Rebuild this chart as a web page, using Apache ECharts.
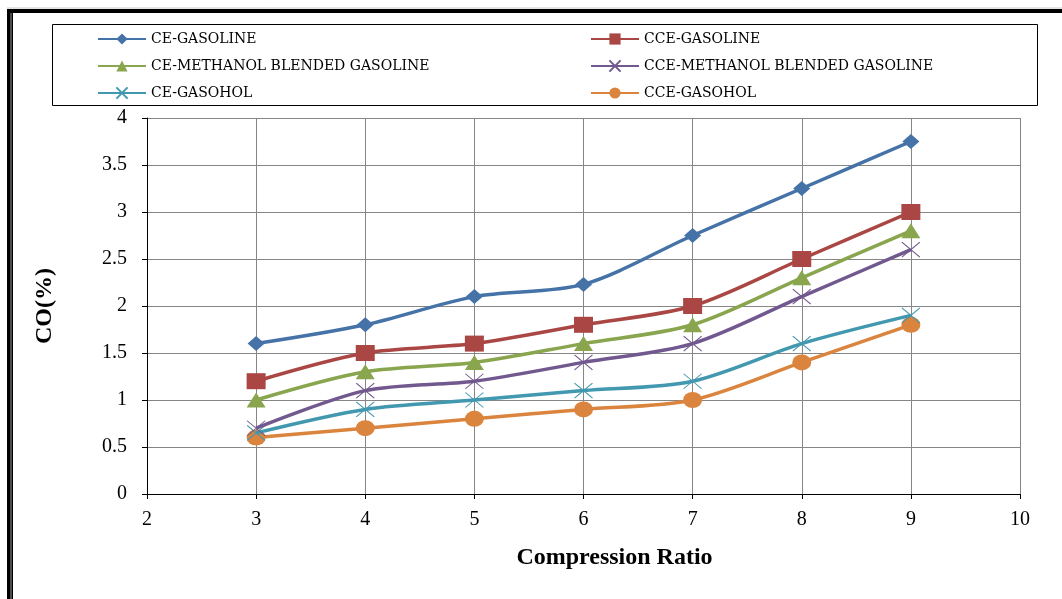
<!DOCTYPE html>
<html>
<head>
<meta charset="utf-8">
<script src="https://cdn.jsdelivr.net/npm/echarts@6/dist/echarts.min.js"></script>
<style>html,body{margin:0;padding:0;background:#fff;}#c{width:1062px;height:599px;}</style>
</head>
<body>
<div id="c"></div>
<script>
const compressionRatio = [3, 4, 5, 6, 7, 8, 9];
const ceGasoline = [1.6, 1.8, 2.1, 2.23, 2.75, 3.25, 3.75];
const cceGasoline = [1.2, 1.5, 1.6, 1.8, 2.0, 2.5, 3.0];
const ceMethanol = [1.0, 1.3, 1.4, 1.6, 1.8, 2.3, 2.8];
const cceMethanol = [0.7, 1.1, 1.2, 1.4, 1.6, 2.1, 2.6];
const ceGasohol = [0.65, 0.9, 1.0, 1.1, 1.2, 1.6, 1.9];
const cceGasohol = [0.6, 0.7, 0.8, 0.9, 1.0, 1.4, 1.8];
const seriesNames = ['CE-GASOLINE', 'CCE-GASOLINE', 'CE-METHANOL BLENDED GASOLINE', 'CCE-METHANOL BLENDED GASOLINE', 'CE-GASOHOL', 'CCE-GASOHOL'];

const colors = ['#4572A7', '#AA4643', '#89A54E', '#71588F', '#4198AF', '#DB843D'];
const cross = 'path://M0,0L10,10M10,0L0,10';
const symbols = ['diamond', 'rect', 'triangle', cross, cross, 'circle'];
const sizes = [[17, 15], [19, 16], [19, 15], [18, 15], [18, 15], [19, 16]];
const values = [ceGasoline, cceGasoline, ceMethanol, cceMethanol, ceGasohol, cceGasohol];

const series = values.map((vals, i) => ({
  name: seriesNames[i],
  type: 'line',
  smooth: 0.3,
  data: compressionRatio.map((x, j) => [x, vals[j]]),
  symbol: symbols[i],
  symbolSize: sizes[i],
  lineStyle: { color: colors[i], width: 3.5 },
  itemStyle: symbols[i] === cross
    ? { color: colors[i], borderColor: colors[i], borderWidth: 1 }
    : { color: colors[i] },
  color: colors[i],
  z: 10 - i
}));

const serif = 'Liberation Serif';
const legendText = { fontFamily: 'DejaVu Serif', fontSize: 14, color: '#000' };

const chart = echarts.init(document.getElementById('c'), null, { renderer: 'canvas' });
chart.setOption({
  animation: false,
  backgroundColor: '#fff',
  grid: { left: 147, right: 42, top: 118, bottom: 105 },
  legend: [
    { data: [seriesNames[0], seriesNames[2], seriesNames[4]], orient: 'vertical', left: 97, top: 32,
      itemGap: 13, itemWidth: 48, itemHeight: 14, padding: 0, textStyle: legendText },
    { data: [seriesNames[1], seriesNames[3], seriesNames[5]], orient: 'vertical', left: 590, top: 32,
      itemGap: 13, itemWidth: 48, itemHeight: 14, padding: 0, textStyle: legendText }
  ],
  xAxis: {
    type: 'value', min: 2, max: 10, interval: 1,
    name: 'Compression Ratio', nameLocation: 'middle', nameGap: 52,
    nameTextStyle: { fontFamily: serif, fontSize: 24, fontWeight: 'bold', color: '#000', padding: [0, 0, 0, 62] },
    axisLine: { show: true, lineStyle: { color: '#000', width: 1 } },
    axisTick: { show: true, length: 5, lineStyle: { color: '#000' } },
    axisLabel: { fontFamily: serif, fontSize: 20, color: '#000', margin: 16 },
    splitLine: { show: true, lineStyle: { color: '#868686', width: 1 } }
  },
  yAxis: {
    type: 'value', min: 0, max: 4, interval: 0.5,
    name: 'CO(%)', nameLocation: 'middle', nameGap: 90,
    nameTextStyle: { fontFamily: serif, fontSize: 24, fontWeight: 'bold', color: '#000' },
    axisLine: { show: true, lineStyle: { color: '#000', width: 1 } },
    axisTick: { show: true, length: 5, lineStyle: { color: '#000' } },
    axisLabel: { fontFamily: serif, fontSize: 20, color: '#000', margin: 20 },
    splitLine: { show: true, lineStyle: { color: '#868686', width: 1 } }
  },
  graphic: [
    { type: 'line', shape: { x1: 7, y1: 8, x2: 1062, y2: 8 }, style: { stroke: '#c8c8c8', lineWidth: 1 }, silent: true },
    { type: 'rect', shape: { x: 7, y: 9, width: 1055, height: 4 }, style: { fill: '#000' }, silent: true },
    { type: 'rect', shape: { x: 7, y: 9, width: 6, height: 590 }, style: { fill: '#000' }, silent: true },
    { type: 'line', shape: { x1: 11, y1: 13, x2: 11, y2: 599 }, style: { stroke: '#9a9a9a', lineWidth: 1 }, silent: true },
    { type: 'rect', shape: { x: 52.5, y: 24.5, width: 985, height: 81 }, style: { fill: 'none', stroke: '#000', lineWidth: 1 }, silent: true }
  ],
  series: series
});
</script>
</body>
</html>
